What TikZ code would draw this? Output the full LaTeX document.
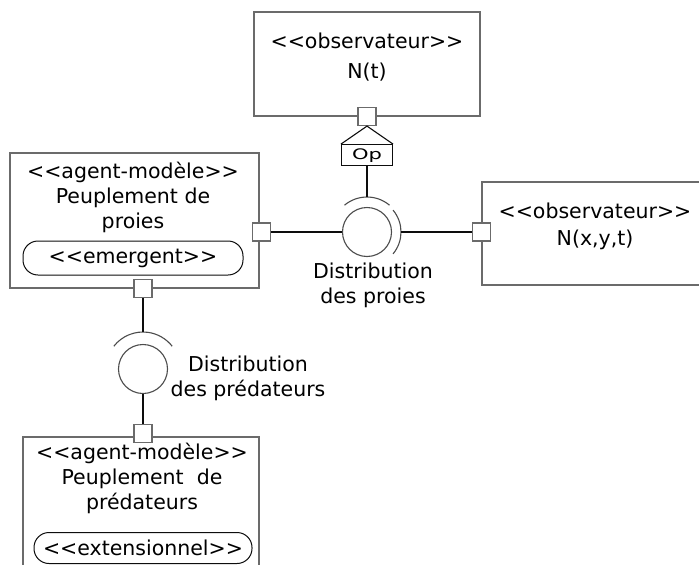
\documentclass[tikz,border=0pt]{standalone}
\usepackage{fontspec}
\usepackage{tikz}
\usetikzlibrary{positioning,calc}
\newfontfamily\djv{DejaVu Sans}
\definecolor{umlLine}{gray}{0.42}
\definecolor{umlWire}{gray}{0.05}
\definecolor{umlRing}{gray}{0.30}

\begin{document}
\begin{tikzpicture}[x=1pt, y=-1pt,
      comp/.style={draw=umlLine, line width=1.1pt, inner sep=0pt},
      port/.style={draw=umlLine, fill=white, line width=1.1pt,
                   minimum size=18pt, inner sep=0pt},
      txt/.style={font=\djv\fontsize{20.5}{25}\selectfont, align=center,
                  inner sep=0pt},
      pill/.style={draw=umlWire, line width=1pt, rounded corners=15pt,
                   inner sep=0pt, font=\djv\fontsize{20.5}{25}\selectfont},
      opbox/.style={draw=umlWire, line width=1.1pt, minimum width=51pt,
                    minimum height=21pt, inner sep=0pt,
                    font=\djv\fontsize{14.5}{16}\selectfont},
      iface/.style={circle, draw=umlRing, line width=1.1pt,
                    minimum size=49pt, inner sep=0pt},
      socket/.style={draw=umlRing, line width=1.1pt},
      wire/.style={draw=umlWire, line width=1.1pt}]
    \clip (0,0) rectangle (699,565);

    % composants
    \node[comp, minimum width=226pt, minimum height=104pt] (obsT) at (367,64) {};
    \node[comp, minimum width=238pt, minimum height=103pt] (obsXY) at (601,233.5) {};
    \node[comp, minimum width=249pt, minimum height=135pt] (agProies) at (134.5,220.5) {};
    \node[comp, minimum width=236pt, minimum height=163pt] (agPred) at (141,518.5) {};

    \node[txt] (obsTtxt) at (367,57) {<<observateur>>\\[5pt]N(t)};
    \node[txt] (obsXYtxt) at (595,226.5) {<<observateur>>\\[2pt]N(x,y,t)};
    \node[txt] (agProiesTxt) at (133,197) {<<agent-modèle>>\\Peuplement de\\proies};
    \node[txt] (agPredTxt) at (142,478) {<<agent-modèle>>\\Peuplement~~de\\prédateurs};
    \node[pill, minimum width=220pt, minimum height=34pt] (emerg) at (133,258) {<<emergent>>};
    \node[pill, minimum width=218pt, minimum height=31pt] (ext) at (143,548) {<<extensionnel>>};

    % interfaces
    \node[iface] (c1) at (367,232) {};
    \node[iface] (c2) at (143,369) {};
    \coordinate (c1top) at ($(c1)+(90:35pt)$);
    \coordinate (c1right) at ($(c1)+(0:34pt)$);
    \coordinate (c2top) at ($(c2)+(90:37pt)$);
    \draw[socket] ($(c1)+(130:35pt)$) arc[start angle=130, end angle=50, radius=35pt];
    \draw[socket] ($(c1)+(40:34pt)$) arc[start angle=40, end angle=-40, radius=34pt];
    \draw[socket] ($(c2)+(142:37pt)$) arc[start angle=142, end angle=38, radius=37pt];

    \node[txt] (distP) at (373,285.5) {Distribution\\des proies};
    \node[txt] (distD) at (248,378) {Distribution\\des prédateurs};

    % ports
    \node[port] (pT) at (obsT.south) {};
    \node[port] (pL) at ($(agProies.east |- c1)+(2,0)$) {};
    \node[port] (pR) at (obsXY.west |- c1) {};
    \node[port] (pLB) at (c2 |- agProies.south) {};
    \node[port] (pB) at ($(c2 |- agPred.north)+(0,-3)$) {};

    \node[opbox, below=18pt of pT.south] (op) {\scalebox{1.45}[1]{Op}};
    \draw[wire] (op.north west) -- (pT.south) -- (op.north east);

    % liaisons
    \draw[wire] (op.south) -- (c1top);
    \draw[wire] (pL.east) -- (c1.west);
    \draw[wire] (c1right) -- (pR.west);
    \draw[wire] (pLB.south) -- (c2top);
    \draw[wire] (c2.south) -- (pB.north);
  \end{tikzpicture}
\end{document}
